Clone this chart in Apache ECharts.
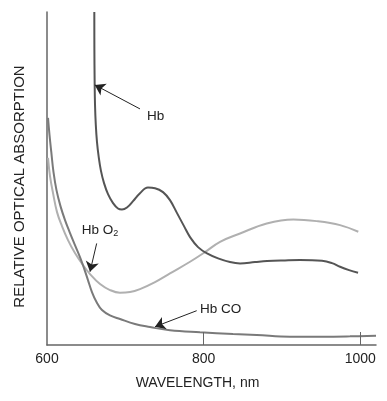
<!DOCTYPE html>
<html><head><meta charset="utf-8">
<script src="https://cdn.jsdelivr.net/npm/echarts@6/dist/echarts.min.js"></script>
<style>html,body{margin:0;padding:0;background:#fff}#c{width:387px;height:401px}</style>
</head><body><div id="c"></div>
<script>
var xTickLabels = [600, 800, 1000];
var xTicks = [800, 1000];
var hb = [[660.4,100.0],[660.5,88.6],[660.8,79.6],[661.3,72.1],[662.3,66.1],[663.8,61.0],[666.0,56.5],[668.9,52.3],[672.8,48.6],[677.9,45.3],[684.3,42.6],[690.6,41.0],[695.7,40.7],[702.1,41.3],[709.8,43.2],[718.7,45.6],[728.9,47.3],[737.9,47.1],[748.1,45.9],[757.0,43.5],[766.0,39.6],[774.9,35.7],[782.6,32.4],[792.8,29.4],[804.3,27.5],[818.4,26.0],[833.6,24.9],[846.4,24.5],[865.5,24.9],[880.9,25.2],[903.8,25.4],[923.0,25.5],[951.1,25.3],[963.9,24.6],[974.1,23.5],[985.6,22.5],[997.1,21.7]];
var hbo2 = [[601.3,56.2],[603.8,50.8],[607.7,45.6],[612.8,39.9],[619.1,35.7],[626.8,31.5],[635.7,27.6],[646.0,24.0],[654.9,21.3],[667.7,18.3],[680.4,16.5],[693.2,15.7],[706.0,15.9],[718.7,16.8],[737.9,18.9],[757.0,21.5],[782.6,25.0],[801.7,27.9],[820.9,31.0],[846.4,33.5],[880.5,36.5],[914.4,37.7],[944.3,37.2],[974.1,36.0],[997.4,34.0]];
var hbco = [[601.3,68.2],[603.2,63.1],[605.5,57.9],[608.3,51.9],[612.1,46.5],[617.2,41.7],[623.0,37.5],[629.4,33.6],[635.7,30.0],[642.1,26.4],[647.2,23.1],[652.3,19.5],[657.4,15.9],[663.2,12.9],[670.2,10.5],[680.4,8.9],[693.2,7.8],[712.3,6.3],[731.5,5.4],[757.0,4.4],[795.3,3.8],[837.5,3.3],[867.7,3.0],[910.2,2.5],[952.3,2.5],[986.8,2.6],[1020,2.8]];
var arrows = {
  hb: [[718.7,70.9],[661.0,78.1]],
  hbo2: [[663.4,30.5],[654.9,22.0]],
  hbco: [[791.1,10.3],[737.9,5.5]]
};
var labelPos = { hb: [727.7,68.8], hbo2: [667.7,34.5], hbco: [795.3,10.7] };
var tickLen = 3.9;

var chart = echarts.init(document.getElementById('c'));
var FONT = 'Liberation Sans, Arial, sans-serif';
function arrowLine(a){
  return { silent:true, symbol:['none','arrow'], symbolSize:10, precision:3,
    itemStyle:{color:'#111'},
    lineStyle:{color:'#222',width:1,type:'solid'}, label:{show:false},
    emphasis:{disabled:true},
    data:[[{coord:a[0]},{coord:a[1]}]] };
}
function ser(name, data, color, arr){
  return { name:name, type:'line', data:data, smooth:0.4, showSymbol:false, symbol:'none',
    lineStyle:{color:color,width:2}, emphasis:{disabled:true}, markLine:arrowLine(arr), z:2 };
}
chart.setOption({
  animation:false,
  grid:{left:47,right:11,top:12,bottom:56,containLabel:false},
  xAxis:{type:'value',min:600,max:1020,interval:200,
    name:'WAVELENGTH, nm',nameLocation:'middle',nameGap:31,
    nameTextStyle:{color:'#222',fontSize:14,fontFamily:FONT,padding:[0,28,0,0]},
    axisLine:{show:true,lineStyle:{color:'#666',width:1.5}},
    axisTick:{show:false},
    axisLabel:{color:'#222',fontSize:14,fontFamily:FONT,margin:7,customValues:xTickLabels,
      formatter:function(v){return String(v);}},
    splitLine:{show:false}},
  yAxis:{type:'value',min:0,max:100,
    name:'RELATIVE OPTICAL ABSORPTION',nameLocation:'middle',nameGap:20,nameRotate:90,
    nameTextStyle:{color:'#222',fontSize:15,fontFamily:FONT,padding:[0,16,0,0]},
    axisLine:{show:true,lineStyle:{color:'#666',width:1.5}},
    axisTick:{show:false},axisLabel:{show:false},splitLine:{show:false}},
  series:[
    ser('Hb O2', hbo2, '#b0b0b0', arrows.hbo2),
    ser('Hb CO', hbco, '#7a7a7a', arrows.hbco),
    ser('Hb', hb, '#555555', arrows.hb),
    { name:'ticks', type:'line', data:[], silent:true,
      markLine:{ silent:true, symbol:['none','none'], label:{show:false}, emphasis:{disabled:true},
        lineStyle:{color:'#666',width:1,type:'solid'},
        data: xTicks.map(function(v){ return [{coord:[v,0]},{coord:[v,tickLen]}]; }) } }
  ]
});
function px(p){ return chart.convertToPixel({gridIndex:0}, p); }
var pHb = px(labelPos.hb), pO2 = px(labelPos.hbo2), pCo = px(labelPos.hbco);
chart.setOption({graphic:[
  {type:'text',x:pHb[0],y:pHb[1],style:{text:'Hb',fill:'#222',font:'13.5px '+FONT,verticalAlign:'middle',align:'left'}},
  {type:'text',x:pO2[0],y:pO2[1],style:{text:'{a|Hb O}{s|2}',fill:'#222',verticalAlign:'middle',align:'center',
     rich:{a:{fontSize:13.5,fontFamily:FONT,fill:'#222'},s:{fontSize:9,fontFamily:FONT,fill:'#222',padding:[7,0,0,0]}}}},
  {type:'text',x:pCo[0],y:pCo[1],style:{text:'Hb CO',fill:'#222',font:'13.5px '+FONT,verticalAlign:'middle',align:'left'}}
]});
</script></body></html>
